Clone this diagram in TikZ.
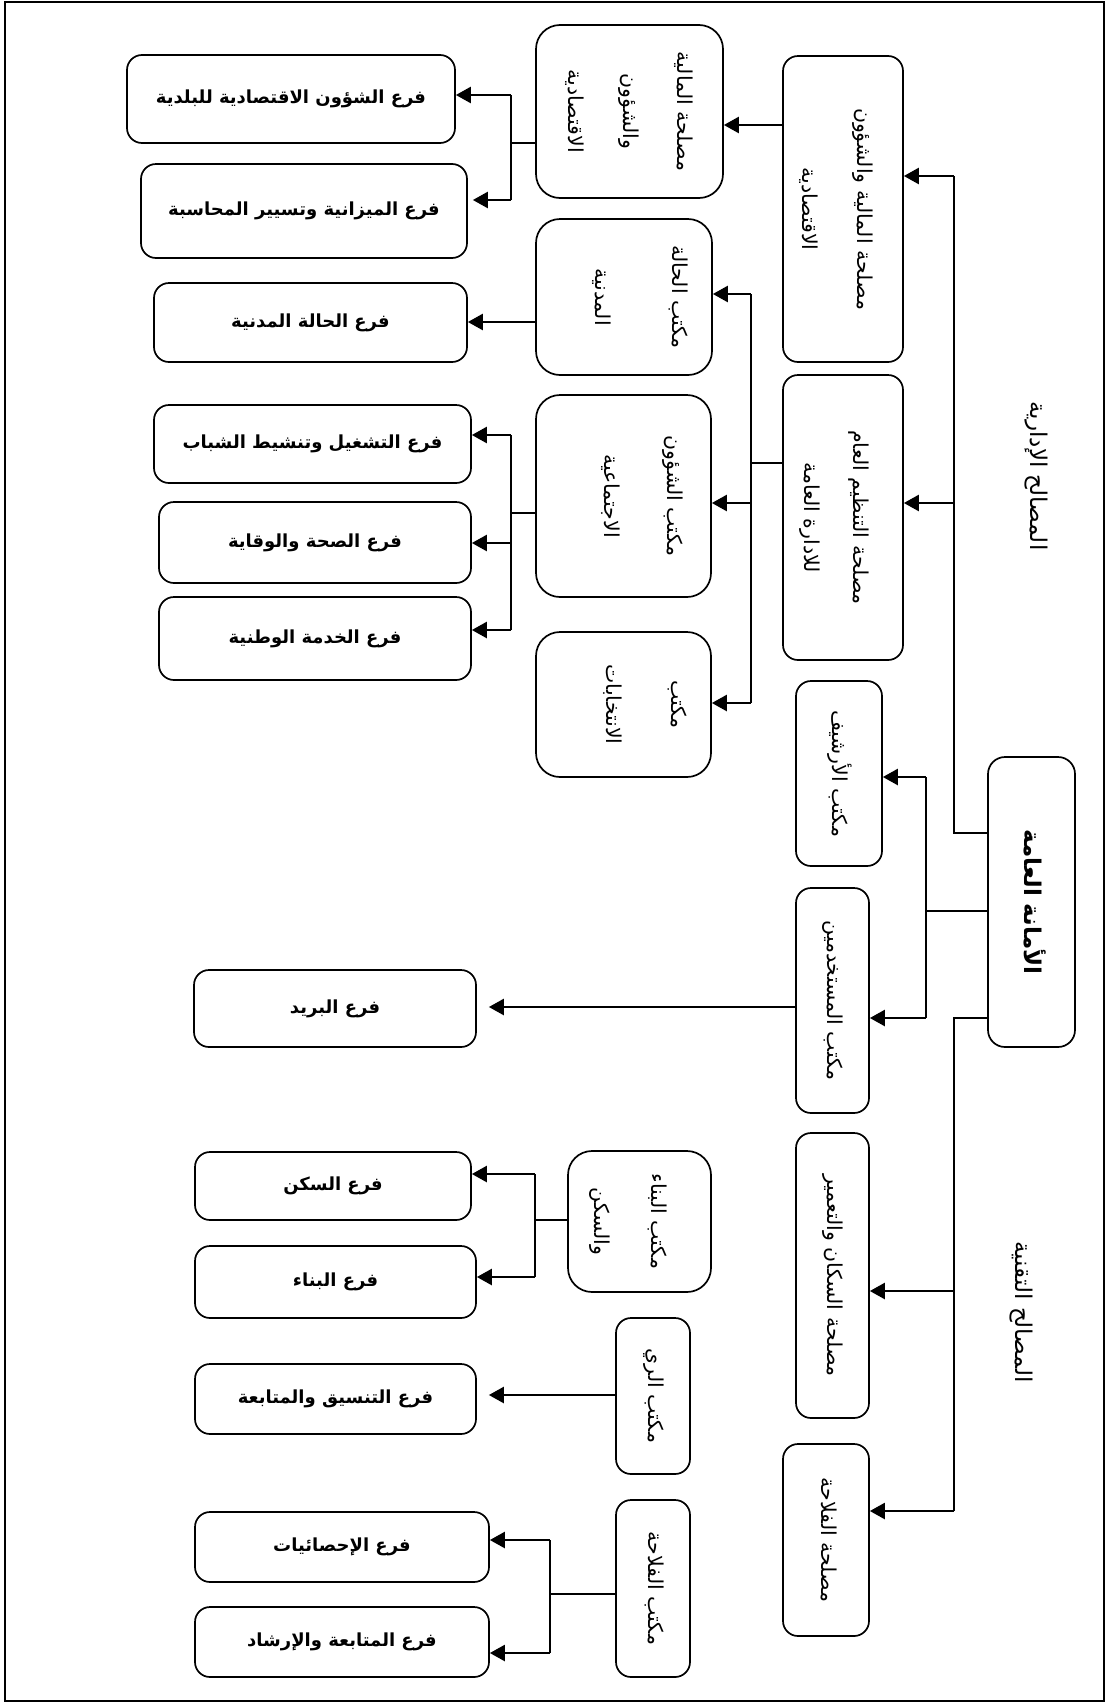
\documentclass[tikz,border=0pt]{standalone}
\usepackage{fontspec}
\usepackage{graphicx}
\usetikzlibrary{arrows.meta}
\TeXXeTstate=1
\newfontfamily\arabicfont[Script=Arabic]{DejaVu Sans}
\newcommand{\AR}[1]{{\arabicfont\beginR #1\endR}}
\newcommand{\ARB}[1]{{\arabicfont\bfseries\beginR #1\endR}}
\newcommand{\vtext}[1]{\rotatebox{-90}{\begin{tabular}{@{}c@{}}#1\end{tabular}}}
\begin{document}
\begin{tikzpicture}[x=1pt,y=-1pt,
  box/.style={draw, line width=1.7pt, rounded corners=15pt, inner sep=0pt, align=center},
  cbox/.style={box, rounded corners=24pt},
  dbox/.style={box, font=\fontsize{18}{21.6}\selectfont},
  vfont/.style={font=\fontsize{20.5}{24.6}\selectfont, inner sep=0pt},
  trunk/.style={line width=1.3pt},
  arr/.style={line width=2.4pt, -{Triangle[length=15pt,width=16pt]}},
  frame/.style={line width=1.5pt}]
\useasboundingbox (0,0) rectangle (1106,1703);
\draw[frame] (5,2) rectangle (1104,1701);

% ---- top node
\node[box, rounded corners=17pt, minimum width=87pt, minimum height=290pt,
      font=\fontsize{23}{27}\selectfont] (A) at (1031.5,902) {\vtext{\ARB{الأمانة العامة}}};

% ---- group labels
\node[font=\fontsize{23}{27}\selectfont] (L1) at (1036,476) {\vtext{\AR{المصالح الإدارية}}};
\node[font=\fontsize{23}{27}\selectfont] (L2) at (1021,1312) {\vtext{\AR{المصالح التقنية}}};

% ---- column B
\node[box, minimum width=120pt, minimum height=306pt] (B1) at (843,209) {};
\node[vfont] (B1t) at (835,209) {\vtext{\AR{مصلحة المالية والشؤون}\\[31pt]\AR{الاقتصادية}}};
\node[box, minimum width=120pt, minimum height=285pt] (B2) at (843,517.5) {};
\node[vfont] (B2t) at (834,517.5) {\vtext{\AR{مصلحة التنظيم العام}\\[25pt]\AR{للادارة العامة}}};
\node[box, vfont, minimum width=86pt, minimum height=185pt] (B3) at (839,773.5)
  {\vtext{\AR{مكتب الأرشيف}}};
\node[box, vfont, minimum width=73pt, minimum height=225pt] (B4) at (832.5,1000.5)
  {\vtext{\AR{مكتب المستخدمين}}};
\node[box, vfont, minimum width=73pt, minimum height=285pt] (B5) at (832.5,1275.5)
  {\vtext{\AR{مصلحة السكان والتعمير}}};
\node[box, vfont, minimum width=86pt, minimum height=192pt] (B6) at (826,1540)
  {\vtext{\AR{مصلحة الفلاحة}}};

% ---- column C
\node[cbox, minimum width=187pt, minimum height=173pt] (C1) at (629.5,111.5) {};
\node[vfont] (C1t) at (628,111.5) {\vtext{\AR{مصلحة المالية}\\[30pt]\AR{والشؤون}\\[30pt]\AR{الاقتصادية}}};
\node[cbox, minimum width=176pt, minimum height=156pt] (C2) at (624,297) {};
\node[vfont] (C2t) at (639,297) {\vtext{\AR{مكتب الحالة}\\[52pt]\AR{المدنية}}};
\node[cbox, minimum width=175pt, minimum height=202pt] (C3) at (623.5,496) {};
\node[vfont] (C3t) at (641,496) {\vtext{\AR{مكتب الشؤون}\\[38pt]\AR{الاجتماعية}}};
\node[cbox, minimum width=175pt, minimum height=145pt] (C4) at (623.5,704.5) {};
\node[vfont] (C4t) at (644,704.5) {\vtext{\AR{مكتب}\\[41pt]\AR{الانتخابات}}};
\node[cbox, minimum width=143pt, minimum height=141pt] (C5) at (639.5,1221.5) {};
\node[vfont] (C5t) at (628,1221.5) {\vtext{\AR{مكتب البناء}\\[32pt]\AR{والسكن}}};
\node[box, vfont, minimum width=74pt, minimum height=156pt] (C6) at (653,1396)
  {\vtext{\AR{مكتب الري}}};
\node[box, vfont, minimum width=74pt, minimum height=177pt] (C7) at (653,1588.5)
  {\vtext{\AR{مكتب الفلاحة}}};

% ---- column D
\node[dbox, minimum width=328pt, minimum height=88pt] (D1) at (291,99) {\ARB{فرع الشؤون الاقتصادية للبلدية}};
\node[dbox, minimum width=326pt, minimum height=94pt] (D2) at (304,211) {\ARB{فرع الميزانية وتسيير المحاسبة}};
\node[dbox, minimum width=313pt, minimum height=79pt] (D3) at (310.5,322.5) {\ARB{فرع الحالة المدنية}};
\node[dbox, minimum width=317pt, minimum height=78pt] (D4) at (312.5,444) {\ARB{فرع التشغيل وتنشيط الشباب}};
\node[dbox, minimum width=312pt, minimum height=81pt] (D5) at (315,542.5) {\ARB{فرع الصحة والوقاية}};
\node[dbox, minimum width=312pt, minimum height=83pt] (D6) at (315,638.5) {\ARB{فرع الخدمة الوطنية}};
\node[dbox, minimum width=282pt, minimum height=77pt] (D7) at (335,1008.5) {\ARB{فرع البريد}};
\node[dbox, minimum width=276pt, minimum height=68pt] (D8) at (333,1186) {\ARB{فرع السكن}};
\node[dbox, minimum width=281pt, minimum height=72pt] (D9) at (335.5,1282) {\ARB{فرع البناء}};
\node[dbox, minimum width=281pt, minimum height=70pt] (D10) at (335.5,1399) {\ARB{فرع التنسيق والمتابعة}};
\node[dbox, minimum width=294pt, minimum height=70pt] (D11) at (342,1547) {\ARB{فرع الإحصائيات}};
\node[dbox, minimum width=294pt, minimum height=70pt] (D12) at (342,1642) {\ARB{فرع المتابعة والإرشاد}};

% ---- spine from A
\coordinate (jUa) at (954,833);
\coordinate (jU1) at (954,176);
\coordinate (jU2) at (954,503);
\draw[trunk] (A.west |- jUa) -- (jUa) -- (jU1);
\draw[arr] (jU1) -- (B1.east |- jU1);
\draw[arr] (jU2) -- (B2.east |- jU2);

\coordinate (jM) at (926,911);
\coordinate (jM1) at (926,777);
\coordinate (jM2) at (926,1018);
\draw[trunk] (A.west |- jM) -- (jM);
\draw[trunk] (jM1) -- (jM2);
\draw[arr] (jM1) -- (B3.east |- jM1);
\draw[arr] (jM2) -- (B4.east |- jM2);

\coordinate (jL) at (954,1018);
\coordinate (jL1) at (954,1291);
\coordinate (jL2) at (954,1511);
\draw[trunk] (A.west |- jL) -- (jL) -- (jL2);
\draw[arr] (jL1) -- (B5.east |- jL1);
\draw[arr] (jL2) -- (B6.east |- jL2);

% ---- B1 -> C1
\coordinate (b1y) at (783,125);
\draw[arr] (B1.west |- b1y) -- (C1.east |- b1y);

% ---- C1 -> D1, D2
\coordinate (c1j) at (511,143);
\coordinate (c1a) at (511,95);
\coordinate (c1b) at (511,200);
\draw[trunk] (C1.west |- c1j) -- (c1j);
\draw[trunk] (c1a) -- (c1b);
\draw[arr] (c1a) -- (D1.east |- c1a);
\draw[arr, shorten >=5pt] (c1b) -- (D2.east |- c1b);

% ---- B2 -> C2, C3, C4
\coordinate (b2j) at (751,463);
\coordinate (b2a) at (751,294);
\coordinate (b2c) at (751,503);
\coordinate (b2d) at (751,703);
\draw[trunk] (B2.west |- b2j) -- (b2j);
\draw[trunk] (b2a) -- (b2d);
\draw[arr] (b2a) -- (C2.east |- b2a);
\draw[arr] (b2c) -- (C3.east |- b2c);
\draw[arr] (b2d) -- (C4.east |- b2d);

% ---- C2 -> D3
\coordinate (c2y) at (536,322);
\draw[arr] (C2.west |- c2y) -- (D3.east |- c2y);

% ---- C3 -> D4, D5, D6
\coordinate (c3j) at (511,513);
\coordinate (c3a) at (511,435);
\coordinate (c3b) at (511,543);
\coordinate (c3c) at (511,630);
\draw[trunk] (C3.west |- c3j) -- (c3j);
\draw[trunk] (c3a) -- (c3c);
\draw[arr] (c3a) -- (D4.east |- c3a);
\draw[arr] (c3b) -- (D5.east |- c3b);
\draw[arr] (c3c) -- (D6.east |- c3c);

% ---- B4 -> D7
\coordinate (b4y) at (796,1007);
\draw[arr, shorten >=12pt] (B4.west |- b4y) -- (D7.east |- b4y);

% ---- C5 -> D8, D9
\coordinate (c5j) at (535,1220);
\coordinate (c5a) at (535,1174);
\coordinate (c5b) at (535,1277);
\draw[trunk] (C5.west |- c5j) -- (c5j);
\draw[trunk] (c5a) -- (c5b);
\draw[arr] (c5a) -- (D8.east |- c5a);
\draw[arr] (c5b) -- (D9.east |- c5b);

% ---- C6 -> D10
\coordinate (c6y) at (616,1395);
\draw[arr, shorten >=12pt] (C6.west |- c6y) -- (D10.east |- c6y);

% ---- C7 -> D11, D12
\coordinate (c7j) at (550,1594);
\coordinate (c7a) at (550,1540);
\coordinate (c7b) at (550,1653);
\draw[trunk] (C7.west |- c7j) -- (c7j);
\draw[trunk] (c7a) -- (c7b);
\draw[arr] (c7a) -- (D11.east |- c7a);
\draw[arr] (c7b) -- (D12.east |- c7b);
\end{tikzpicture}
\end{document}
